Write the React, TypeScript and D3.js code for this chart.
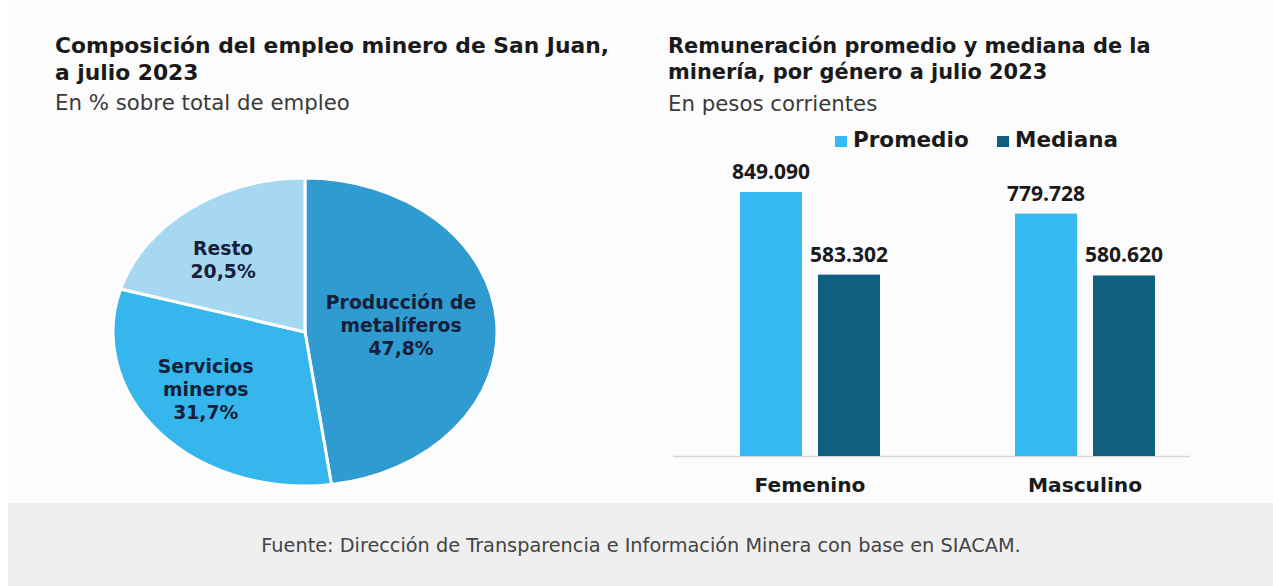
import React from "react";
import * as d3 from "d3";

const pieLabels = ["Producción de metalíferos", "Servicios mineros", "Resto"];
const pieLines = [["Producción de", "metalíferos", "47,8%"], ["Servicios", "mineros", "31,7%"], ["Resto", "20,5%"]];
const pieValues = [47.8, 31.7, 20.5];
const pieColors = ["#2f9bd1", "#35b6ec", "#a7d8f2"];

const genders = ["Femenino", "Masculino"];
const series = ["Promedio", "Mediana"];
const promedio = [849090, 779728];
const mediana = [583302, 580620];
const seriesColors = ["#35b9f2", "#0f5f80"];

const fmt = (v: number) => d3.format(",")(v).replace(/,/g, ".");

const FONT = "'DejaVu Sans', sans-serif";
const NUMFONT = "'Open Sans', sans-serif";

export default function App() {
  const W = 1273, H = 586;

  // Pie (elliptical)
  const cx = 305, cy = 332, rx = 192, ry = 154;
  const pie = d3.pie<number>().sort(null).startAngle(0).endAngle(2 * Math.PI);
  const arcs = pie(pieValues);
  const arc = d3.arc<d3.PieArcDatum<number>>().innerRadius(0).outerRadius(ry);
  const sx = rx / ry;

  // Bars
  const x0 = d3.scaleBand<string>().domain(genders).range([672.5, 1222.5]).padding(0);
  const x1 = d3.scaleBand<string>().domain(series).range([0, 140]).paddingInner(0.205).paddingOuter(0);
  const y = d3.scaleLinear().domain([0, d3.max(promedio)!]).range([456, 192]);
  const barData = genders.flatMap((g, i) => [
    { g, s: series[0], v: promedio[i], c: seriesColors[0] },
    { g, s: series[1], v: mediana[i], c: seriesColors[1] },
  ]);

  return (
    <svg width={W} height={H} style={{ position: "absolute", left: 0, top: 0 }} fontFamily={FONT}>
      <rect x={0} y={0} width={W} height={H} fill="#ffffff" />
      <rect x={8} y={0} width={W - 8} height={503} fill="#fcfcfc" />
      <rect x={8} y={503} width={W - 8} height={H - 503} fill="#efefef" />

      {/* Left titles */}
      <text x={55} y={53} fontSize={21.8} fontWeight={700} fill="#1a1a1a">Composición del empleo minero de San Juan,</text>
      <text x={55} y={80} fontSize={21.8} fontWeight={700} fill="#1a1a1a">a julio 2023</text>
      <text x={55} y={110} fontSize={21.3} fill="#3a3a3a">En % sobre total de empleo</text>

      {/* Right titles */}
      <text x={668} y={53} fontSize={20.9} fontWeight={700} fill="#1a1a1a">Remuneración promedio y mediana de la</text>
      <text x={668} y={79} fontSize={20.9} fontWeight={700} fill="#1a1a1a">minería, por género a julio 2023</text>
      <text x={668} y={111} fontSize={21.3} fill="#3a3a3a">En pesos corrientes</text>

      {/* Pie */}
      <g transform={`translate(${cx},${cy}) scale(${sx},1)`}>
        {arcs.map((a, i) => (
          <path key={pieLabels[i]} d={arc(a)!} fill={pieColors[i]} stroke="#ffffff" strokeWidth={3} vectorEffect="non-scaling-stroke" strokeLinejoin="round" />
        ))}
      </g>
      {arcs.map((a, i) => {
        const mid = (a.startAngle + a.endAngle) / 2;
        const r = 0.58;
        const lx = cx + Math.sin(mid) * rx * r - 15;
        const ly = cy - Math.cos(mid) * ry * r;
        const lines = pieLines[i];
        return (
          <text key={pieLabels[i]} textAnchor="middle" fontSize={18.8} fontWeight={700} fill="#17203a">
            {lines.map((l, j) => (
              <tspan key={j} x={lx} y={ly + (j - (lines.length - 1) / 2) * 23 + 6}>{l}</tspan>
            ))}
          </text>
        );
      })}

      {/* Legend */}
      {series.map((s, i) => {
        const lx = i === 0 ? 835 : 997;
        return (
          <g key={s}>
            <rect x={lx} y={136} width={12} height={11} fill={seriesColors[i]} />
            <text x={lx + 18} y={147} fontSize={21.5} fontWeight={700} fill="#1a1a1a">{s}</text>
          </g>
        );
      })}

      {/* Bars */}
      <line x1={673} x2={1190} y1={456.5} y2={456.5} stroke="#d6d6d6" strokeWidth={1.5} />
      {barData.map((d) => {
        const bx = x0(d.g)! + x0.bandwidth() / 2 - 70 + x1(d.s)!;
        return (
          <g key={d.g + d.s}>
            <rect x={bx} y={y(d.v)} width={x1.bandwidth()} height={y(0) - y(d.v)} fill={d.c} />
            <text x={bx + x1.bandwidth() / 2} y={y(d.v) - 13} textAnchor="middle" fontFamily={NUMFONT} fontSize={21} fontWeight={700} fill="#1a1a1a">{fmt(d.v)}</text>
          </g>
        );
      })}
      {genders.map((g) => (
        <text key={g} x={x0(g)! + x0.bandwidth() / 2} y={492} textAnchor="middle" fontSize={20.2} fontWeight={700} fill="#1a1a1a">{g}</text>
      ))}

      {/* Footer */}
      <text x={641} y={552} textAnchor="middle" fontSize={19.3} fill="#444444">Fuente: Dirección de Transparencia e Información Minera con base en SIACAM.</text>
    </svg>
  );
}
